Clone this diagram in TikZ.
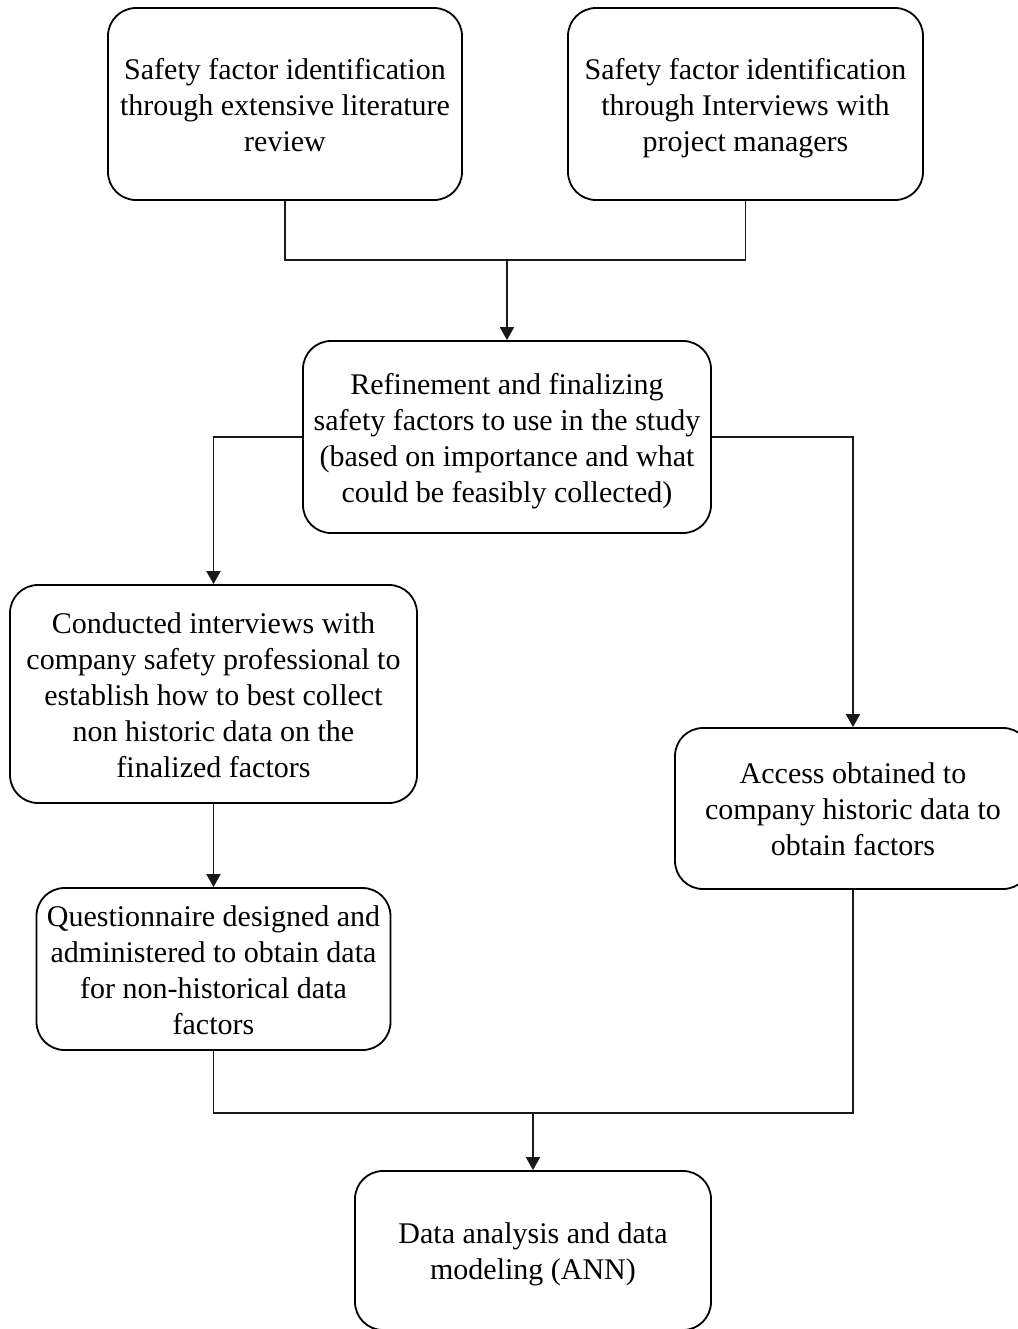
\documentclass[tikz,border=0pt]{standalone}
\usepackage{fontspec}
\setmainfont{Liberation Serif}
\usetikzlibrary{arrows.meta}
\newcommand{\toprow}{\rule{0pt}{16.5pt}}
\tikzset{
  stage/.style={draw,rounded corners=14pt,line width=0.9pt,align=center,
    font=\fontsize{15}{18}\selectfont,inner sep=0pt,
    execute at end node=\strut},
  link/.style={line width=0.9pt,draw=black!90}
}

\begin{document}
\begin{tikzpicture}[x=0.5pt,y=-0.5pt,>={Triangle[length=6.5pt,width=7pt]}]
\useasboundingbox (0,0) rectangle (1018,1329);
\clip (0,0) rectangle (1018,1329);
\node[stage,minimum width=177pt,minimum height=96pt] (lit) at (285,104) {\toprow Safety factor identification\\through extensive literature\\review};
\node[stage,minimum width=177.5pt,minimum height=96pt] (intv) at (745.5,104) {\toprow Safety factor identification\\through Interviews with\\project managers};
\node[stage,minimum width=204pt,minimum height=96pt] (refine) at (507,437) {\toprow Refinement and finalizing\\safety factors to use in the study\\(based on importance and what\\could be feasibly collected)};
\node[stage,minimum width=203.5pt,minimum height=109pt] (conduct) at (213.5,694) {\toprow Conducted interviews with\\company safety professional to\\establish how to best collect\\non historic data on the\\finalized factors};
\node[stage,minimum width=178pt,minimum height=80.5pt] (access) at (853,808.5) {\toprow Access obtained to\\company historic data to\\obtain factors};
\node[stage,minimum width=177pt,minimum height=81pt] (quest) at (213.5,969) {\toprow Questionnaire designed and\\administered to obtain data\\for non-historical data\\factors};
\node[stage,minimum width=178pt,minimum height=79.5pt] (model) at (533,1250.5) {\toprow Data analysis and data\\modeling (ANN)};
\coordinate (jtop) at (507,260);
\coordinate (jbot) at (533,1113);
\draw[link] (lit.south) |- (jtop) -| (intv.south);
\draw[link,->] (jtop) -- (refine.north);
\draw[link,->] (refine.west) -| (conduct.north);
\draw[link,->] (refine.east) -| (access.north);
\draw[link,->] (conduct.south) -- (quest.north);
\draw[link] (quest.south) |- (jbot) -| (access.south);
\draw[link,->] (jbot) -- (model.north);
\end{tikzpicture}
\end{document}
